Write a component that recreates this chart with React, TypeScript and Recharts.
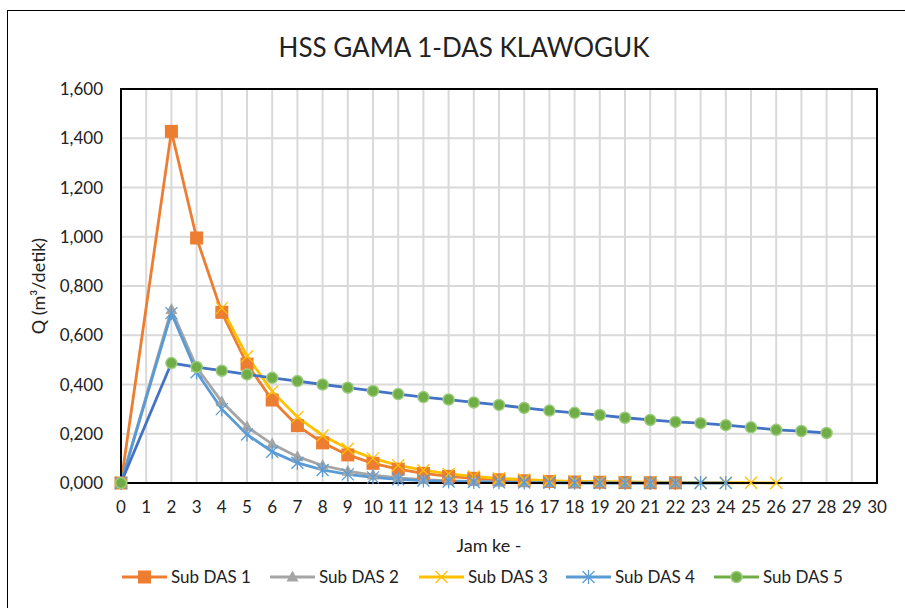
import {
  CartesianGrid,
  Line,
  LineChart,
  ReferenceArea,
  XAxis,
  YAxis,
} from 'recharts';

const hours = [0, 2, 3, 4, 5, 6, 7, 8, 9, 10, 11, 12, 13, 14, 15, 16, 17, 18, 19, 20, 21, 22, 23, 24, 25, 26, 27, 28];

// values follow the hours array; missing points are null
const subDas1 = [0, 1.428, 0.995, 0.693, 0.483, 0.337, 0.233, 0.163, 0.114, 0.08, 0.056, 0.039, 0.027, 0.019, 0.013, 0.009, 0.006, 0.004, 0.003, 0.002, 0.001, 0.001];
const subDas2 = [0, 0.705, 0.47, 0.33, 0.228, 0.158, 0.107, 0.071, 0.048, 0.032, 0.021, 0.014, 0.009, 0.006, 0.004, 0.003, 0.002, 0.001, 0.001, 0.001, 0, 0];
const subDas3 = [null, null, null, 0.71, 0.515, 0.372, 0.268, 0.193, 0.139, 0.1, 0.072, 0.052, 0.037, 0.027, 0.019, 0.014, 0.01, 0.007, 0.005, 0.004, 0.003, 0.002, 0.001, 0.001, 0.001, 0];
const subDas4 = [0, 0.69, 0.45, 0.3, 0.197, 0.127, 0.082, 0.053, 0.035, 0.023, 0.015, 0.01, 0.006, 0.004, 0.003, 0.002, 0.001, 0.001, 0, 0, 0, 0, 0, 0];
const subDas5 = [0, 0.487, 0.471, 0.456, 0.441, 0.427, 0.414, 0.4, 0.387, 0.374, 0.361, 0.349, 0.339, 0.327, 0.317, 0.305, 0.294, 0.285, 0.276, 0.265, 0.256, 0.248, 0.243, 0.235, 0.226, 0.216, 0.211, 0.203];

const xTicks = Array.from({ length: 31 }, (_, i) => i);
const yTicks = [0, 0.2, 0.4, 0.6, 0.8, 1.0, 1.2, 1.4, 1.6];

const FONT = 'Lato, "Open Sans", sans-serif';

const data = hours.map((h, i) => ({
  jam: h,
  s1: subDas1[i] ?? null,
  s2: subDas2[i] ?? null,
  s3: subDas3[i] ?? null,
  s4: subDas4[i] ?? null,
  s5: subDas5[i] ?? null,
}));

function Square({ cx, cy, color }: any) {
  if (cx == null || cy == null) return null;
  return <rect x={cx - 6.5} y={cy - 6.5} width={13} height={13} fill={color} />;
}

function Triangle({ cx, cy, color }: any) {
  if (cx == null || cy == null) return null;
  return <polygon points={`${cx},${cy - 6.5} ${cx + 6},${cy + 4.5} ${cx - 6},${cy + 4.5}`} fill={color} />;
}

function Cross({ cx, cy, color }: any) {
  if (cx == null || cy == null) return null;
  return (
    <g stroke={color} strokeWidth={1.3}>
      <line x1={cx - 6} y1={cy - 6} x2={cx + 6} y2={cy + 6} />
      <line x1={cx - 6} y1={cy + 6} x2={cx + 6} y2={cy - 6} />
    </g>
  );
}

function Star({ cx, cy, color }: any) {
  if (cx == null || cy == null) return null;
  return (
    <g stroke={color} strokeWidth={1.3}>
      <line x1={cx - 6} y1={cy - 6} x2={cx + 6} y2={cy + 6} />
      <line x1={cx - 6} y1={cy + 6} x2={cx + 6} y2={cy - 6} />
      <line x1={cx} y1={cy - 7} x2={cx} y2={cy + 7} />
    </g>
  );
}

function Dot({ cx, cy }: any) {
  if (cx == null || cy == null) return null;
  return <circle cx={cx} cy={cy} r={5.5} fill="#70AD47" stroke="#9BCB7C" strokeWidth={1.5} />;
}

const series = [
  { key: 's1', name: 'Sub DAS 1', color: '#ED7D31', legend: '#ED7D31', marker: Square },
  { key: 's2', name: 'Sub DAS 2', color: '#A5A5A5', legend: '#A5A5A5', marker: Triangle },
  { key: 's3', name: 'Sub DAS 3', color: '#FFC000', legend: '#FFC000', marker: Cross },
  { key: 's4', name: 'Sub DAS 4', color: '#5B9BD5', legend: '#5B9BD5', marker: Star },
  { key: 's5', name: 'Sub DAS 5', color: '#4472C4', legend: '#70AD47', marker: Dot },
];

const legendX = [122, 270, 419, 566, 714];

function formatQ(v: number) {
  return v.toFixed(3).replace('.', ',');
}

export default function App() {
  return (
    <div style={{ position: 'absolute', left: 0, top: 0, width: 905, height: 608, background: '#fff', overflow: 'hidden' }}>
      <div style={{ position: 'absolute', left: 7, top: 10, width: 910, height: 620, border: '1.5px solid #000' }} />
      <div style={{ position: 'absolute', left: 0, top: 0 }}>
        <LineChart width={905} height={608} data={data} margin={{ top: 89, right: 28, bottom: 95, left: 0 }}>
          <text x={464} y={57} textAnchor="middle" fontFamily={FONT} fontSize={26} fill="#222">
            HSS GAMA 1-DAS KLAWOGUK
          </text>
          <CartesianGrid stroke="#D9D9D9" strokeWidth={2} />
          <XAxis
            dataKey="jam"
            type="number"
            domain={[0, 30]}
            ticks={xTicks}
            interval={0}
            height={30}
            tickLine={false}
            axisLine={{ stroke: '#000', strokeWidth: 2 }}
            tick={{ fill: '#222', fontSize: 17, fontFamily: FONT }}
            tickMargin={12}
          />
          <YAxis
            width={121}
            domain={[0, 1.6]}
            ticks={yTicks}
            interval={0}
            tickLine={false}
            axisLine={{ stroke: '#000', strokeWidth: 2 }}
            tickFormatter={formatQ}
            tick={{ fill: '#222', fontSize: 17, fontFamily: FONT }}
            tickMargin={12}
          />
          <ReferenceArea x1={0} x2={30} y1={0} y2={1.6} fill="none" stroke="#000" strokeWidth={2} strokeOpacity={1} fillOpacity={0} />
          {series.map((s) => {
            const M = s.marker;
            return (
              <Line
                key={s.key}
                dataKey={s.key}
                name={s.name}
                stroke={s.color}
                strokeWidth={2.8}
                dot={(p: any) => <M key={`${s.key}-${p.index}`} cx={p.cx} cy={p.cy} color={s.color} />}
                activeDot={false}
                isAnimationActive={false}
              />
            );
          })}
          <text x={489} y={552} textAnchor="middle" fontFamily={FONT} fontSize={18} fill="#222">
            Jam ke -
          </text>
          <text
            x={38}
            y={286}
            textAnchor="middle"
            dominantBaseline="central"
            fontFamily={FONT}
            fontSize={18}
            fill="#222"
            transform="rotate(-90 38 286)"
          >
            Q (m³/detik)
          </text>
          {series.map((s, i) => {
            const M = s.marker;
            const x = legendX[i];
            return (
              <g key={`lg-${s.key}`}>
                <line x1={x} y1={577} x2={x + 45} y2={577} stroke={s.legend} strokeWidth={2.8} />
                <M cx={x + 22.5} cy={577} color={s.legend} />
                <text x={x + 49} y={583} fontFamily={FONT} fontSize={17} fill="#222">
                  {s.name}
                </text>
              </g>
            );
          })}
        </LineChart>
      </div>
    </div>
  );
}
